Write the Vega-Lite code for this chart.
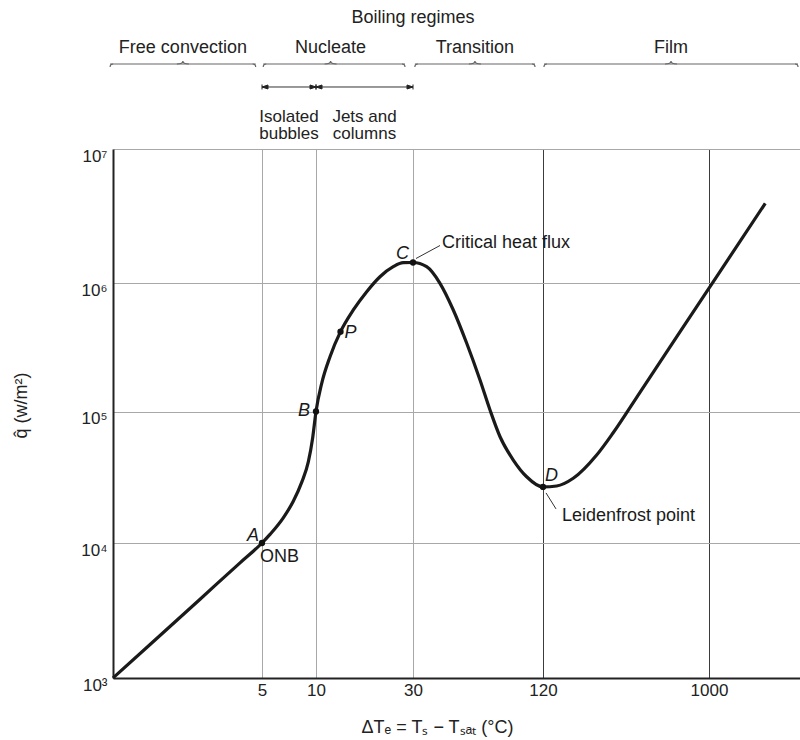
{
  "$schema": "https://vega.github.io/schema/vega-lite/v6.json",
  "width": 687,
  "height": 529,
  "autosize": {"type": "none"},
  "padding": {"left": 113, "top": 149, "right": 0, "bottom": 62},
  "background": "white",
  "config": {"view": {"stroke": null}, "font": "Liberation Sans"},
  "datasets": {
    "curve": [
      {"dT": 0.738, "q": 1000},
      {"dT": 1.188, "q": 1771},
      {"dT": 2.257, "q": 3835},
      {"dT": 3.77, "q": 7130},
      {"dT": 5, "q": 10000},
      {"dT": 5.54, "q": 11625},
      {"dT": 6.57, "q": 15540},
      {"dT": 7.47, "q": 20760},
      {"dT": 8.32, "q": 28890},
      {"dT": 9.06, "q": 41370},
      {"dT": 9.58, "q": 62980},
      {"dT": 10, "q": 100000},
      {"dT": 10.67, "q": 165800},
      {"dT": 11.72, "q": 267000},
      {"dT": 13.2, "q": 418000},
      {"dT": 15.26, "q": 616700},
      {"dT": 17.76, "q": 855700},
      {"dT": 20.64, "q": 1114000},
      {"dT": 23.99, "q": 1323000},
      {"dT": 26.88, "q": 1418000},
      {"dT": 30, "q": 1422000},
      {"dT": 34.7, "q": 1323000},
      {"dT": 40.0, "q": 994700},
      {"dT": 46.1, "q": 616700},
      {"dT": 53.2, "q": 339400},
      {"dT": 61.3, "q": 175800},
      {"dT": 68.2, "q": 102700},
      {"dT": 75.9, "q": 64270},
      {"dT": 87.4, "q": 42760},
      {"dT": 100.8, "q": 31910},
      {"dT": 120, "q": 26700},
      {"dT": 142.9, "q": 27140},
      {"dT": 176.6, "q": 31050},
      {"dT": 238.2, "q": 46670},
      {"dT": 293.5, "q": 68630},
      {"dT": 414.2, "q": 141100},
      {"dT": 690.2, "q": 415700},
      {"dT": 1151, "q": 1216000},
      {"dT": 2053, "q": 3934000}
    ],
    "points": [
      {"name": "A", "dT": 5, "q": 10000, "note": "ONB"},
      {"name": "B", "dT": 10, "q": 100000, "note": ""},
      {"name": "P", "dT": 13.2, "q": 418000, "note": ""},
      {"name": "C", "dT": 30, "q": 1422000, "note": "Critical heat flux"},
      {"name": "D", "dT": 120, "q": 26700, "note": "Leidenfrost point"}
    ],
    "regimes": [
      {"regime": "Free convection", "from": 0.711, "to": 4.61},
      {"regime": "Nucleate", "from": 5.08, "to": 27.4},
      {"regime": "Transition", "from": 30.6, "to": 110.2},
      {"regime": "Film", "from": 121.5, "to": 3120}
    ],
    "subregimes": [
      {"label": "Isolated\nbubbles", "from": 5, "to": 10},
      {"label": "Jets and\ncolumns", "from": 10, "to": 30}
    ],
    "heading": [
      {"text": "Boiling regimes", "dT": 30}
    ]
  },
  "layer": [
    {
      "layer": [
        {
          "data": {"name": "curve"},
          "mark": {"type": "line", "interpolate": "monotone", "color": "#1a1a1a", "strokeWidth": 3.2},
          "encoding": {
            "x": {
              "field": "dT", "type": "quantitative",
              "scale": {"type": "log", "domain": [0.738, 5, 10, 30, 120, 1000, 3200], "range": [0, 149, 203, 300, 430, 596, 687], "nice": false},
              "axis": {
                "values": [5, 10, 30, 120, 1000],
                "format": "d",
                "title": "ΔTₑ = Tₛ − Tₛₐₜ (°C)",
                "titleFont": "Liberation Sans",
                "titleFontSize": 18,
                "titleFontWeight": "normal",
                "titleColor": "#222",
                "titleX": 324,
                "titleY": 49,
                "titleBaseline": "middle",
                "labelFont": "Liberation Sans",
                "labelFontSize": 17,
                "labelColor": "#222",
                "labelPadding": 4,
                "labelFlush": false,
                "labelOverlap": false,
                "ticks": false,
                "tickSize": 0,
                "domainColor": "#222",
                "domainWidth": 2,
                "grid": true,
                "gridColor": {"condition": {"test": "datum.value >= 100", "value": "#3c3c3c"}, "value": "#a8a8a8"},
                "gridWidth": 1
              }
            },
            "y": {
              "field": "q", "type": "quantitative",
              "scale": {"type": "log", "domain": [1000, 10000, 100000, 1000000, 10000000], "range": [529, 394, 262.5, 134, 0], "nice": false},
              "axis": {
                "values": [1000, 10000, 100000, 1000000, 10000000],
                "labelExpr": "datum.value == 1000 ? '10³' : datum.value == 10000 ? '10⁴' : datum.value == 100000 ? '10⁵' : datum.value == 1000000 ? '10⁶' : '10⁷'",
                "title": "q̂ (w/m²)",
                "titleFont": "Liberation Sans",
                "titleFontSize": 18,
                "titleFontWeight": "normal",
                "titleColor": "#222",
                "titleX": -92,
                "titleY": 256,
                "titleAngle": -90,
                "titleAlign": "center",
                "titleBaseline": "middle",
                "labelFont": "Liberation Sans",
                "labelFontSize": 17,
                "labelColor": "#222",
                "labelPadding": 6,
                "labelOffset": 7,
                "labelFlush": false,
                "labelOverlap": false,
                "ticks": false,
                "tickSize": 0,
                "domainColor": "#222",
                "domainWidth": 2,
                "grid": true,
                "gridColor": "#a8a8a8",
                "gridWidth": 1
              }
            }
          }
        },
        {
          "mark": {"type": "rule", "color": "#222", "strokeWidth": 2},
          "encoding": {
            "y": {"datum": 10000000, "type": "quantitative", "scale": {"type": "log", "domain": [1000, 10000, 100000, 1000000, 10000000], "range": [529, 394, 262.5, 134, 0], "nice": false}}
          }
        },
        {
          "data": {"name": "points"},
          "encoding": {
            "x": {"field": "dT", "type": "quantitative", "scale": {"type": "log", "domain": [0.738, 5, 10, 30, 120, 1000, 3200], "range": [0, 149, 203, 300, 430, 596, 687], "nice": false}},
            "y": {"field": "q", "type": "quantitative", "scale": {"type": "log", "domain": [1000, 10000, 100000, 1000000, 10000000], "range": [529, 394, 262.5, 134, 0], "nice": false}}
          },
          "layer": [
            {"mark": {"type": "point", "filled": true, "size": 40, "color": "#111", "opacity": 1}},
            {
              "transform": [{"filter": "datum.name == 'C'"}],
              "mark": {"type": "point", "shape": "M0.3,-0.4 L2.7,-1.7", "size": 400, "filled": false, "stroke": "#333", "strokeWidth": 1, "opacity": 1}
            },
            {
              "transform": [{"filter": "datum.name == 'D'"}],
              "mark": {"type": "point", "shape": "M0.3,0.6 L1.3,2.2", "size": 400, "filled": false, "stroke": "#333", "strokeWidth": 1, "opacity": 1}
            },
            {
              "transform": [{"filter": "datum.name == 'A'"}],
              "mark": {"type": "text", "align": "right", "baseline": "middle", "dx": -3, "dy": -7, "fontSize": 18, "fontStyle": "italic", "color": "#1a1a1a"},
              "encoding": {"text": {"field": "name"}}
            },
            {
              "transform": [{"filter": "datum.name == 'B'"}],
              "mark": {"type": "text", "align": "right", "baseline": "middle", "dx": -6, "dy": -1, "fontSize": 18, "fontStyle": "italic", "color": "#1a1a1a"},
              "encoding": {"text": {"field": "name"}}
            },
            {
              "transform": [{"filter": "datum.name == 'P'"}],
              "mark": {"type": "text", "align": "left", "baseline": "middle", "dx": 4, "dy": 1, "fontSize": 18, "fontStyle": "italic", "color": "#1a1a1a"},
              "encoding": {"text": {"field": "name"}}
            },
            {
              "transform": [{"filter": "datum.name == 'C'"}],
              "mark": {"type": "text", "align": "right", "baseline": "middle", "dx": -4, "dy": -9, "fontSize": 18, "fontStyle": "italic", "color": "#1a1a1a"},
              "encoding": {"text": {"field": "name"}}
            },
            {
              "transform": [{"filter": "datum.name == 'D'"}],
              "mark": {"type": "text", "align": "left", "baseline": "middle", "dx": 2, "dy": -11, "fontSize": 18, "fontStyle": "italic", "color": "#1a1a1a"},
              "encoding": {"text": {"field": "name"}}
            },
            {
              "transform": [{"filter": "datum.name == 'A'"}],
              "mark": {"type": "text", "align": "left", "baseline": "middle", "dx": -2, "dy": 14, "fontSize": 18, "color": "#1a1a1a"},
              "encoding": {"text": {"field": "note"}}
            },
            {
              "transform": [{"filter": "datum.name == 'C'"}],
              "mark": {"type": "text", "align": "left", "baseline": "middle", "dx": 29, "dy": -20, "fontSize": 18, "color": "#1a1a1a"},
              "encoding": {"text": {"field": "note"}}
            },
            {
              "transform": [{"filter": "datum.name == 'D'"}],
              "mark": {"type": "text", "align": "left", "baseline": "middle", "dx": 19, "dy": 29, "fontSize": 18, "color": "#1a1a1a"},
              "encoding": {"text": {"field": "note"}}
            }
          ]
        }
      ]
    },
    {
      "layer": [
        {
          "data": {"name": "regimes"},
          "transform": [{"calculate": "sqrt(datum.from * datum.to)", "as": "mid"}],
          "encoding": {
            "y": {"datum": 1, "type": "quantitative", "scale": {"domain": [4.696, 27.696], "reverse": true, "nice": false, "zero": false}, "axis": null}
          },
          "layer": [
            {
              "mark": {"type": "rule", "color": "#666", "strokeWidth": 1.2},
              "encoding": {
                "x": {"field": "from", "type": "quantitative", "scale": {"type": "log", "domain": [0.738, 5, 10, 30, 120, 1000, 3200], "range": [0, 149, 203, 300, 430, 596, 687], "nice": false}},
                "x2": {"field": "to"}
              }
            },
            {
              "mark": {"type": "point", "shape": "M1,0 Q0,0 0,1", "size": 36, "filled": false, "stroke": "#666", "strokeWidth": 1.2, "opacity": 1},
              "encoding": {
                "x": {"field": "from", "type": "quantitative", "scale": {"type": "log", "domain": [0.738, 5, 10, 30, 120, 1000, 3200], "range": [0, 149, 203, 300, 430, 596, 687], "nice": false}}
              }
            },
            {
              "mark": {"type": "point", "shape": "M-1,0 Q0,0 0,1", "size": 36, "filled": false, "stroke": "#666", "strokeWidth": 1.2, "opacity": 1},
              "encoding": {
                "x": {"field": "to", "type": "quantitative", "scale": {"type": "log", "domain": [0.738, 5, 10, 30, 120, 1000, 3200], "range": [0, 149, 203, 300, 430, 596, 687], "nice": false}}
              }
            },
            {
              "mark": {"type": "point", "shape": "M-2,0 Q0,0 0,-1 Q0,0 2,0", "size": 36, "filled": false, "stroke": "#666", "strokeWidth": 1.2, "opacity": 1},
              "encoding": {
                "x": {"field": "mid", "type": "quantitative", "scale": {"type": "log", "domain": [0.738, 5, 10, 30, 120, 1000, 3200], "range": [0, 149, 203, 300, 430, 596, 687], "nice": false}}
              }
            },
            {
              "mark": {"type": "text", "align": "center", "baseline": "middle", "dy": -16, "fontSize": 18, "color": "#222"},
              "encoding": {
                "x": {"field": "mid", "type": "quantitative", "scale": {"type": "log", "domain": [0.738, 5, 10, 30, 120, 1000, 3200], "range": [0, 149, 203, 300, 430, 596, 687], "nice": false}},
                "text": {"field": "regime"}
              }
            }
          ]
        },
        {
          "data": {"name": "subregimes"},
          "transform": [{"calculate": "sqrt(datum.from * datum.to)", "as": "mid"}],
          "layer": [
            {
              "mark": {"type": "rule", "color": "#333", "strokeWidth": 1},
              "encoding": {
                "x": {"field": "from", "type": "quantitative", "scale": {"type": "log", "domain": [0.738, 5, 10, 30, 120, 1000, 3200], "range": [0, 149, 203, 300, 430, 596, 687], "nice": false}},
                "x2": {"field": "to"},
                "y": {"datum": 2, "type": "quantitative", "axis": null}
              }
            },
            {
              "mark": {"type": "point", "shape": "M0,-1 L0,1 M0,0 L2.4,-0.8 L2.4,0.8 Z", "size": 25, "filled": true, "color": "#222", "stroke": "#222", "strokeWidth": 1, "opacity": 1},
              "encoding": {
                "x": {"field": "from", "type": "quantitative", "scale": {"type": "log", "domain": [0.738, 5, 10, 30, 120, 1000, 3200], "range": [0, 149, 203, 300, 430, 596, 687], "nice": false}},
                "y": {"datum": 2, "type": "quantitative", "axis": null}
              }
            },
            {
              "mark": {"type": "point", "shape": "M0,-1 L0,1 M0,0 L-2.4,-0.8 L-2.4,0.8 Z", "size": 25, "filled": true, "color": "#222", "stroke": "#222", "strokeWidth": 1, "opacity": 1},
              "encoding": {
                "x": {"field": "to", "type": "quantitative", "scale": {"type": "log", "domain": [0.738, 5, 10, 30, 120, 1000, 3200], "range": [0, 149, 203, 300, 430, 596, 687], "nice": false}},
                "y": {"datum": 2, "type": "quantitative", "axis": null}
              }
            },
            {
              "mark": {"type": "text", "align": "center", "baseline": "top", "lineBreak": "\n", "lineHeight": 17.5, "fontSize": 17, "dy": -1, "color": "#222"},
              "encoding": {
                "x": {"field": "mid", "type": "quantitative", "scale": {"type": "log", "domain": [0.738, 5, 10, 30, 120, 1000, 3200], "range": [0, 149, 203, 300, 430, 596, 687], "nice": false}},
                "y": {"datum": 3, "type": "quantitative", "axis": null},
                "text": {"field": "label"}
              }
            }
          ]
        },
        {
          "data": {"name": "heading"},
          "mark": {"type": "text", "align": "center", "baseline": "middle", "fontSize": 18, "color": "#222"},
          "encoding": {
            "x": {"field": "dT", "type": "quantitative", "scale": {"type": "log", "domain": [0.738, 5, 10, 30, 120, 1000, 3200], "range": [0, 149, 203, 300, 430, 596, 687], "nice": false}},
            "y": {"datum": -1, "type": "quantitative", "axis": null},
            "text": {"field": "text"}
          }
        }
      ]
    }
  ],
  "resolve": {"scale": {"y": "independent"}}
}
